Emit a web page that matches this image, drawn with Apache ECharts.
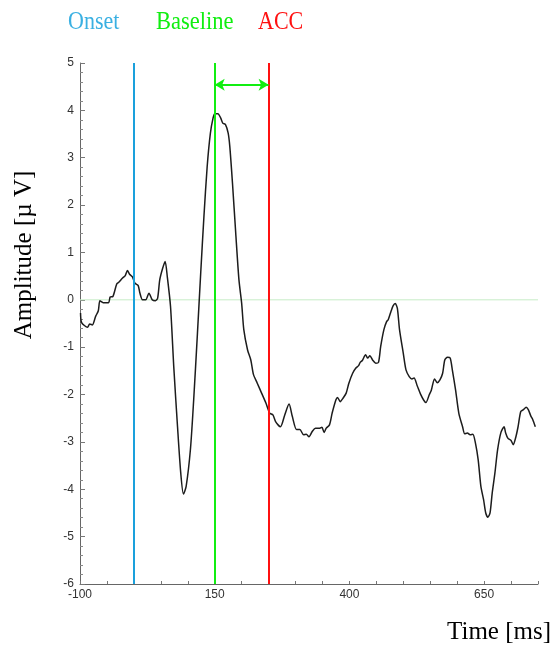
<!DOCTYPE html>
<html><head><meta charset="utf-8">
<script src="https://cdn.jsdelivr.net/npm/echarts@6/dist/echarts.min.js"></script>
<style>html,body{margin:0;padding:0;background:#fff}#c{width:555px;height:646px}</style>
</head><body><div id="c"></div>
<script>
const times = [-99,-97,-86,-82,-77,-71,-66,-63,-57,-47,-44,-39,-32,-28,-21,-16,-12,-8,-3,2,8,11,16,22,28,34,40,44,48,53,58,62,68,74,81,87,92,97,105,111,118,124,130,136,142,147,150,156,161,165,170,175,178,183,189,195,200,204,211,217,222,229,237,245,252,258,263,272,280,288,294,302,308,315,320,325,331,337,345,349,353,357,363,368,375,378,383,388,394,399,406,412,417,420,424,430,434,438,443,449,454,458,464,469,472,477,481,485,489,493,500,505,511,516,520,526,532,538,542,548,552,558,563,568,573,577,582,587,591,597,603,610,614,619,624,629,634,639,644,649,653,657,661,665,670,675,681,687,690,694,700,704,709,713,718,723,728,732,737,740,745];
const amplitude = [-0.28,-0.48,-0.58,-0.51,-0.53,-0.35,-0.23,-0.02,-0.06,-0.06,0.06,0.07,0.33,0.37,0.46,0.51,0.62,0.54,0.49,0.35,0.30,0.15,0.0,0.0,0.14,0.0,-0.02,0.03,0.42,0.65,0.81,0.49,-0.14,-1.41,-2.68,-3.66,-4.10,-3.94,-3.15,-2.11,-0.70,0.56,1.76,2.81,3.52,3.84,3.93,3.93,3.84,3.73,3.70,3.52,3.24,2.46,1.41,0.42,-0.07,-0.63,-1.06,-1.27,-1.58,-1.76,-1.97,-2.18,-2.39,-2.43,-2.57,-2.68,-2.43,-2.20,-2.46,-2.74,-2.74,-2.85,-2.84,-2.89,-2.78,-2.71,-2.71,-2.69,-2.80,-2.71,-2.64,-2.39,-2.11,-2.06,-2.15,-2.08,-1.97,-1.76,-1.55,-1.44,-1.39,-1.32,-1.28,-1.16,-1.23,-1.18,-1.27,-1.34,-1.32,-0.99,-0.63,-0.46,-0.42,-0.25,-0.13,-0.08,-0.18,-0.63,-1.13,-1.48,-1.62,-1.67,-1.65,-1.82,-1.99,-2.12,-2.17,-2.01,-1.91,-1.67,-1.75,-1.69,-1.55,-1.27,-1.21,-1.23,-1.48,-1.90,-2.39,-2.68,-2.83,-2.81,-2.85,-2.84,-3.03,-3.38,-3.94,-4.22,-4.50,-4.59,-4.50,-4.08,-3.66,-3.17,-2.81,-2.68,-2.81,-2.92,-2.97,-3.06,-2.89,-2.68,-2.36,-2.32,-2.27,-2.32,-2.46,-2.52,-2.68];
const xLabelTicks = [-100,150,400,650];
const markers = [
  {name:'Onset', time:0, color:'#1aa0dc'},
  {name:'Baseline', time:150, color:'#11ee11'},
  {name:'ACC', time:250, color:'#ff1010'}
];
const arrowLevel = 4.54;

const chart = echarts.init(document.getElementById('c'), null, {renderer:'canvas'});
const labelFont = {fontFamily:'"Liberation Sans", Arial, sans-serif', fontSize:12, color:'#333'};
const serif = '"Liberation Serif", "Times New Roman", serif';

chart.setOption({
  animation:false,
  backgroundColor:'#fff',
  grid:{left:80, right:17, top:63, bottom:62, containLabel:false},
  xAxis:{
    type:'value', min:-100, max:750, interval:50,
    axisLine:{show:true, onZero:false, lineStyle:{color:'#666', width:1}},
    axisTick:{show:true, inside:true, length:3, lineStyle:{color:'#777'}},
    splitLine:{show:false},
    axisLabel:Object.assign({margin:5, formatter:v => xLabelTicks.includes(v) ? String(v) : ''}, labelFont)
  },
  yAxis:{
    type:'value', min:-6, max:5, interval:1,
    axisLine:{show:true, onZero:false, lineStyle:{color:'#666', width:1}},
    axisTick:{show:true, inside:true, length:5, lineStyle:{color:'#777'}},
    minorTick:{show:true, splitNumber:5, length:3, lineStyle:{color:'#888'}},
    splitLine:{show:false},
    axisLabel:Object.assign({margin:6}, labelFont)
  },
  series:[
    {
      type:'line', data:[[-100,0],[750,0]], symbol:'none', silent:true,
      lineStyle:{color:'#c6ecc6', width:1}, z:1
    },
    {
      type:'line', data:times.map((t,i)=>[t, amplitude[i]]), symbol:'none', smooth:0.25,
      lineStyle:{color:'#1c1c1c', width:1.5}, z:3,
      markLine:{
        silent:true, symbol:['none','none'], label:{show:false}, animation:false,
        data: markers.map(m => [
          {coord:[m.time,-6], lineStyle:{color:m.color, width:2, type:'solid'}},
          {coord:[m.time,5]}
        ]).concat([[
          {coord:[150,arrowLevel], symbol:'arrow', symbolSize:[9,10], lineStyle:{color:'#11ee11', width:2, type:'solid'}},
          {coord:[250,arrowLevel], symbol:'arrow', symbolSize:[9,10]}
        ]])
      }
    }
  ],
  graphic:[
    {type:'text', x:68, y:22, scaleX:0.88, style:{text:markers[0].name, fill:'#3ab0e2', font:'25px '+serif, verticalAlign:'middle'}},
    {type:'text', x:156, y:22, scaleX:0.9, style:{text:markers[1].name, fill:'#11ee11', font:'25px '+serif, verticalAlign:'middle'}},
    {type:'text', x:258, y:22, scaleX:0.88, style:{text:markers[2].name, fill:'#ff1010', font:'25px '+serif, verticalAlign:'middle'}},
    {type:'text', x:24, y:255, rotation:Math.PI/2, style:{text:'Amplitude [µ V]', fill:'#000', font:'25px '+serif, align:'center', verticalAlign:'middle'}},
    {type:'text', x:551, y:632, style:{text:'Time [ms]', fill:'#000', font:'25px '+serif, align:'right', verticalAlign:'middle'}}
  ]
});
</script></body></html>
